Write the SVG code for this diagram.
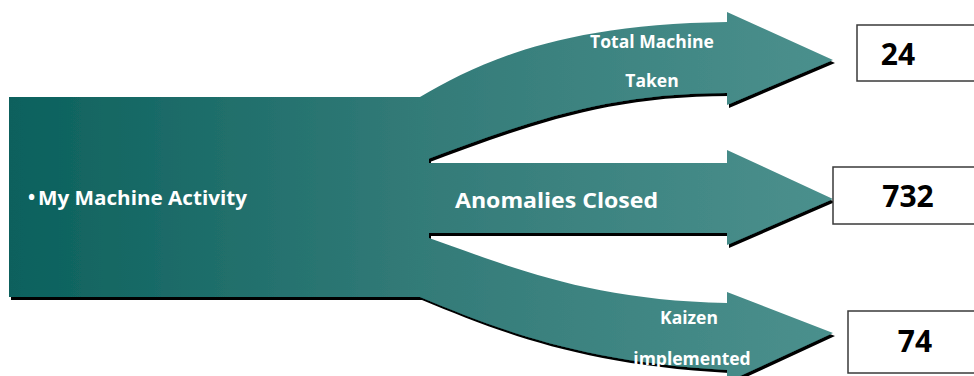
<svg xmlns="http://www.w3.org/2000/svg" width="974" height="376" viewBox="0 0 974 376">
<defs>
<linearGradient id="teal" gradientUnits="userSpaceOnUse" x1="9" y1="0" x2="833" y2="0">
<stop offset="0" stop-color="#0b615d"/>
<stop offset="0.5" stop-color="#337b78"/>
<stop offset="1" stop-color="#4b908d"/>
</linearGradient>
<filter id="shadow" x="-5%" y="-5%" width="110%" height="115%">
<feOffset in="SourceAlpha" dx="2" dy="3" result="off"/>
<feGaussianBlur in="off" stdDeviation="0.6" result="blur"/>
<feMerge><feMergeNode in="blur"/><feMergeNode in="SourceGraphic"/></feMerge>
</filter>
<style>
.lbl{font-family:"Open Sans","Liberation Sans",sans-serif;font-weight:bold;fill:#ffffff;}
.num{font-family:"Open Sans","Liberation Sans",sans-serif;font-weight:bold;fill:#000000;font-size:30px;text-anchor:middle;}
.box{fill:#ffffff;stroke:#3a3a3a;stroke-width:1.5;}
.flow{fill:url(#teal);}
</style>
</defs>
<rect width="974" height="376" fill="#ffffff"/>
<g filter="url(#shadow)">
<g id="source">
<rect class="flow" x="9" y="97" width="420" height="200"/>
</g>
<g id="connectors">
<path class="flow" d="M420,97 C480,62 560,24 727,22 L727,12 L833,60 L727,105 L727,93 C600,93 520,125 420,162 Z"/>
<path class="flow" d="M420,163 L727,163 L727,150 L833,199 L727,245 L727,233 L420,233 Z"/>
<path class="flow" d="M420,235 C500,262 580,300 727,303 L727,292 L833,333 L727,382 L727,370 C580,362 500,330 420,297 Z"/>
</g>
</g>
<text class="lbl" x="28" y="204" font-size="19">•</text>
<text class="lbl" x="38" y="205" font-size="19" textLength="209" lengthAdjust="spacingAndGlyphs">My Machine Activity</text>
<text class="lbl" x="652" y="48" font-size="17.5" text-anchor="middle">Total Machine</text>
<text class="lbl" x="652" y="87" font-size="17.5" text-anchor="middle">Taken</text>
<text class="lbl" x="455" y="208" font-size="22" textLength="203" lengthAdjust="spacingAndGlyphs">Anomalies Closed</text>
<text class="lbl" x="689" y="324" font-size="17.5" text-anchor="middle">Kaizen</text>
<text class="lbl" x="692" y="365" font-size="17.5" text-anchor="middle">implemented</text>
<g id="box-24">
<rect class="box" x="857" y="25" width="130" height="56"/>
<text class="num" x="898" y="65">24</text>
</g>
<g id="box-732">
<rect class="box" x="833" y="167" width="150" height="57"/>
<text class="num" x="908" y="207">732</text>
</g>
<g id="box-74">
<rect class="box" x="848" y="311" width="140" height="62"/>
<text class="num" x="915" y="352">74</text>
</g>
</svg>
